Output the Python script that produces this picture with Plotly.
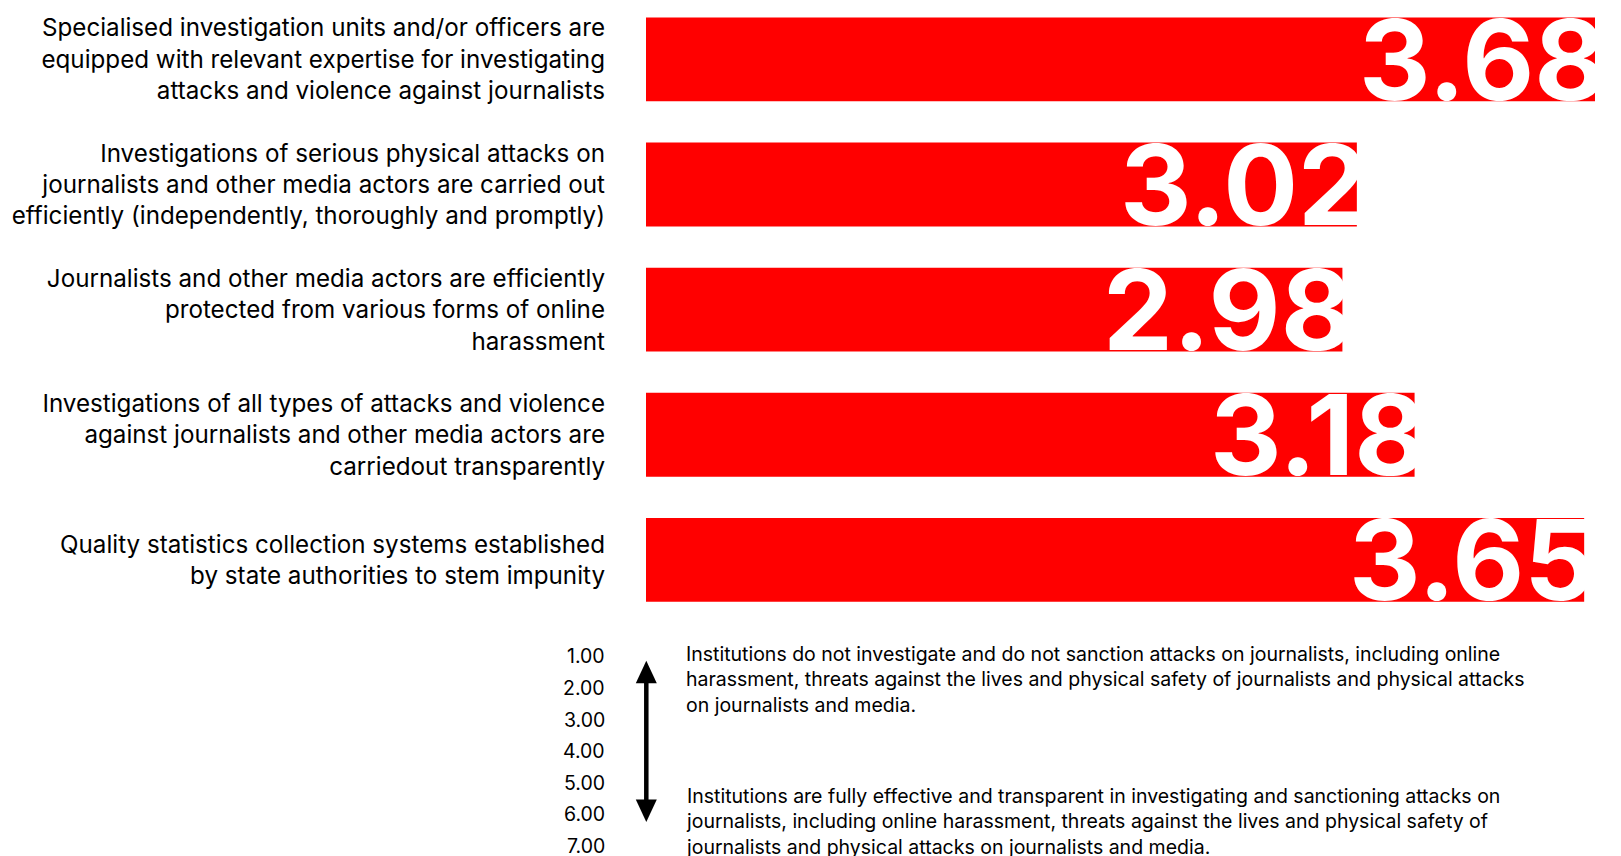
import plotly.graph_objects as go

# ---------------- data ----------------
CATEGORIES = [
    "Specialised investigation units and/or officers are<br>equipped with relevant expertise for investigating<br>attacks and violence against journalists",
    "Investigations of serious physical attacks on<br>journalists and other media actors are carried out<br>efficiently (independently, thoroughly and promptly)",
    "Journalists and other media actors are efficiently<br>protected from various forms of online<br>harassment",
    "Investigations of all types of attacks and violence<br>against journalists and other media actors are<br>carriedout transparently",
    "Quality statistics collection systems established<br>by state authorities to stem impunity",
]
VALUES = [3.68, 3.02, 2.98, 3.18, 3.65]
VALUE_LABELS = ["3.68", "3.02", "2.98", "3.18", "3.65"]

SCALE_TICKS = ["1.00", "2.00", "3.00", "4.00", "5.00", "6.00", "7.00"]
SCALE_LOW_TEXT = ("Institutions do not investigate and do not sanction attacks on journalists, including online<br>"
                  "harassment, threats against the lives and physical safety of journalists and physical attacks<br>"
                  "on journalists and media.")
SCALE_HIGH_TEXT = ("Institutions are fully effective and transparent in investigating and sanctioning attacks on<br>"
                   "journalists, including online harassment, threats against the lives and physical safety of<br>"
                   "journalists and physical attacks on journalists and media.")

# ---------------- layout geometry ----------------
W, H = 1621, 856
ML, MR, MT, MB = 646, 26, 0, 234
PW, PH = W - ML - MR, H - MT - MB

RED = "#FF0000"
TXT_FONT = "Inter, 'Noto Sans', sans-serif"
NUM_FONT = "Inter, 'Noto Sans', sans-serif"


def px_x(px):
    return (px - ML) / PW


def px_y(py):
    return 1 - (py - MT) / PH


fig = go.Figure()
fig.add_trace(go.Bar(
    x=VALUES,
    y=CATEGORIES,
    orientation="h",
    marker=dict(color=RED, line=dict(width=0)),
    hoverinfo="skip",
))

# big value labels inside the bar ends
for i, (v, lab) in enumerate(zip(VALUES, VALUE_LABELS)):
    fig.add_annotation(
        x=v, y=i, xref="x", yref="y",
        text=lab, showarrow=False,
        xanchor="right", yanchor="middle",
        xshift=13, yshift=0,
        font=dict(family=NUM_FONT, size=111, color="white", weight=700),
    )

# scale ticks 1.00 ... 7.00
for k, t in enumerate(SCALE_TICKS):
    fig.add_annotation(
        x=px_x(607), y=px_y(656.3 + k * 31.6), xref="paper", yref="paper",
        text=t, showarrow=False, xanchor="right", yanchor="middle",
        font=dict(family=TXT_FONT, size=19.5, color="#000"),
    )

# explanatory texts
fig.add_annotation(
    x=px_x(684), y=px_y(679.5), xref="paper", yref="paper",
    text=SCALE_LOW_TEXT, showarrow=False, xanchor="left", yanchor="middle", align="left",
    font=dict(family=TXT_FONT, size=19.5, color="#000"),
)
fig.add_annotation(
    x=px_x(684), y=px_y(821.5), xref="paper", yref="paper",
    text=SCALE_HIGH_TEXT, showarrow=False, xanchor="left", yanchor="middle", align="left",
    font=dict(family=TXT_FONT, size=19.5, color="#000"),
)

# double-headed arrow
ax_c = 646.3
top_tip, top_base = 660.7, 683.3
bot_tip, bot_base = 822.0, 799.4
half = 10.5
fig.add_shape(type="line", xref="paper", yref="paper",
              x0=px_x(ax_c), x1=px_x(ax_c), y0=px_y(top_base - 1), y1=px_y(bot_base + 1),
              line=dict(color="black", width=4.5))
fig.add_shape(type="path", xref="paper", yref="paper",
              path=f"M {px_x(ax_c)} {px_y(top_tip)} L {px_x(ax_c - half)} {px_y(top_base)} L {px_x(ax_c + half)} {px_y(top_base)} Z",
              fillcolor="black", line=dict(width=0))
fig.add_shape(type="path", xref="paper", yref="paper",
              path=f"M {px_x(ax_c)} {px_y(bot_tip)} L {px_x(ax_c - half)} {px_y(bot_base)} L {px_x(ax_c + half)} {px_y(bot_base)} Z",
              fillcolor="black", line=dict(width=0))

fig.update_layout(
    width=W, height=H,
    margin=dict(l=ML, r=MR, t=MT, b=MB, pad=0, autoexpand=False),
    paper_bgcolor="white", plot_bgcolor="white",
    showlegend=False,
    bargap=0.33,
    font=dict(family=TXT_FONT, color="#000"),
)
fig.update_xaxes(range=[1.05, 3.68], visible=False, showgrid=False, zeroline=False)
fig.update_yaxes(
    type="category",
    range=[4.497, -0.475],
    showgrid=False, zeroline=False, showline=False, ticks="",
    ticklabelstandoff=40,
    tickfont=dict(family=TXT_FONT, size=24.2, color="#000"),
    automargin=False,
)

fig.write_html("out.html", config={"displayModeBar": False},
               post_script="document.body.style.margin='0px';")
